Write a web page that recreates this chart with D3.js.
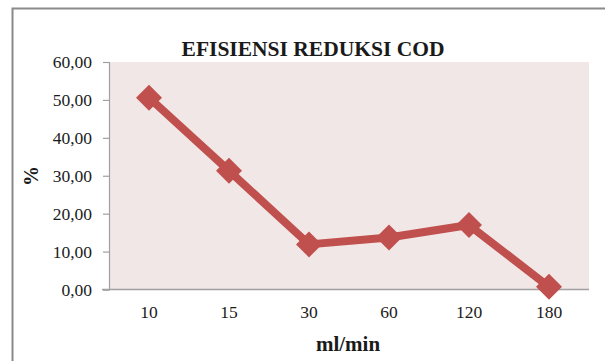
<!DOCTYPE html>
<html>
<head>
<meta charset="utf-8">
<script src="https://cdn.jsdelivr.net/npm/d3@7"></script>
<style>
  html, body { margin: 0; padding: 0; background: #ffffff; }
  svg { display: block; }
  text { font-family: "Liberation Serif", "Times New Roman", serif; fill: #1a1a1a; }
</style>
</head>
<body>
<svg id="chart" width="605" height="361"></svg>
<script>
// Flow rates (ml/min) and COD reduction efficiency (%)
const categories = ["10", "15", "30", "60", "120", "180"];
const efficiency = [50.6, 31.3, 11.9, 13.7, 17.0, 0.7];
const yTicks = [0, 10, 20, 30, 40, 50, 60];

const svg = d3.select("#chart");
const W = 605, H = 361;
const plot = { left: 109, top: 62, right: 589, bottom: 289.5 };

// Outer chart frame
svg.append("rect")
  .attr("x", 12.5).attr("y", 8.5)
  .attr("width", W + 10).attr("height", H + 10)
  .attr("fill", "#ffffff")
  .attr("stroke", "#8a8a8a").attr("stroke-width", 2);

// Plot area background
svg.append("rect")
  .attr("x", plot.left).attr("y", plot.top)
  .attr("width", plot.right - plot.left).attr("height", plot.bottom - plot.top)
  .attr("fill", "#f2e7e7");

const x = d3.scaleBand().domain(categories).range([plot.left, plot.right]);
const y = d3.scaleLinear().domain([0, 60]).range([plot.bottom, plot.top]);

const fmt = v => d3.format(".2f")(v).replace(".", ",");

// Y axis
const yAxis = svg.append("g")
  .attr("transform", `translate(${plot.left},0)`)
  .call(d3.axisLeft(y).tickValues(yTicks).tickSize(6).tickPadding(11).tickFormat(fmt));
yAxis.select(".domain").attr("stroke", "#a0a0a0").attr("stroke-width", 1.2);
yAxis.selectAll(".tick line").attr("stroke", "#a0a0a0").attr("stroke-width", 1.2);
yAxis.selectAll(".tick text")
  .attr("font-family", "Liberation Serif").attr("font-size", 17.5)
  .attr("fill", "#1a1a1a");

// X axis
const xAxis = svg.append("g")
  .attr("transform", `translate(0,${plot.bottom})`)
  .call(d3.axisBottom(x).tickSize(0).tickPadding(16));
xAxis.select(".domain").remove();
xAxis.selectAll(".tick text")
  .attr("font-family", "Liberation Serif").attr("font-size", 17.5)
  .attr("fill", "#1a1a1a");
svg.append("line")
  .attr("x1", plot.left - 7).attr("x2", plot.right)
  .attr("y1", plot.bottom).attr("y2", plot.bottom)
  .attr("stroke", "#a0a0a0").attr("stroke-width", 1.5);

// Series line
const cx = d => x(d.cat) + x.bandwidth() / 2;
const pts = categories.map((c, i) => ({ cat: c, val: efficiency[i] }));

svg.append("path")
  .datum(pts)
  .attr("fill", "none")
  .attr("stroke", "#c0504d")
  .attr("stroke-width", 8)
  .attr("stroke-linejoin", "round")
  .attr("d", d3.line().x(cx).y(d => y(d.val)));

// Diamond markers
svg.selectAll(".marker")
  .data(pts)
  .join("path")
  .attr("class", "marker")
  .attr("transform", d => `translate(${cx(d)},${y(d.val)})`)
  .attr("d", "M0,-13L13,0L0,13L-13,0Z")
  .attr("fill", "#c0504d");

// Titles
svg.append("text")
  .attr("x", 313).attr("y", 56)
  .attr("text-anchor", "middle")
  .attr("font-size", 21.5).attr("font-weight", "bold")
  .text("EFISIENSI REDUKSI COD");

svg.append("text")
  .attr("x", 348).attr("y", 351)
  .attr("text-anchor", "middle")
  .attr("font-size", 21).attr("font-weight", "bold")
  .text("ml/min");

svg.append("text")
  .attr("transform", "translate(38,176) rotate(-90)")
  .attr("text-anchor", "middle")
  .attr("font-size", 20).attr("font-weight", "bold")
  .text("%");
</script>
</body>
</html>
